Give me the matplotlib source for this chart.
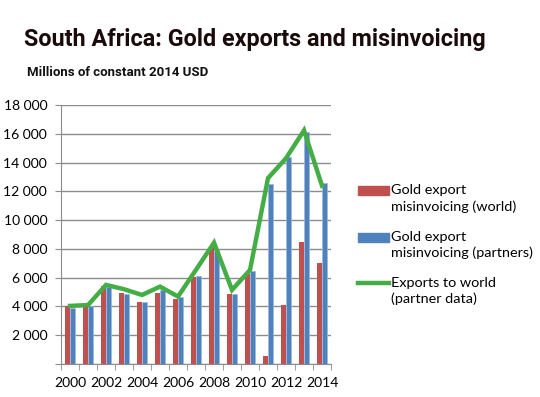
import matplotlib
matplotlib.use("Agg")
import matplotlib.pyplot as plt
from matplotlib.ticker import FuncFormatter
from matplotlib.lines import Line2D
from matplotlib.patches import Rectangle
import numpy as np

years = list(range(2000, 2015))
misinv_world = [4000, 4000, 5430, 4920, 4340, 4970, 4550, 6080, 8150, 4870, 6260, 560, 4100, 8510, 7030]
misinv_partners = [3870, 4040, 5380, 4870, 4290, 5150, 4640, 6150, 7950, 4870, 6470, 12500, 14360, 16120, 12570]
exports_world = [4040, 4100, 5500, 5200, 4800, 5380, 4690, 6550, 8430, 5150, 6540, 12920, 14300, 16240, 12390]

red = "#C0504D"
blue = "#4F81BD"
green = "#45AD45"
grid_col = "#8C8C8C"

fig = plt.figure(figsize=(5.4, 3.97), dpi=100)
ax = fig.add_axes([0.113, 0.083, 0.5, 0.6525])

x = np.arange(len(years))
w = 0.3
ax.bar(x - w / 2, misinv_world, width=w, color=red, zorder=2)
ax.bar(x + w / 2, misinv_partners, width=w, color=blue, edgecolor="#9DB9DD", linewidth=0.5, zorder=2)
ax.plot(x, exports_world, color=green, linewidth=3.2, zorder=3, solid_joinstyle="miter")

ax.set_xlim(-0.5, len(years) - 0.5)
ax.set_ylim(0, 18000)
ax.set_yticks(range(0, 18001, 2000))
ax.yaxis.set_major_formatter(FuncFormatter(lambda v, p: "" if v == 0 else f"{int(v):,}".replace(",", " ")))
ax.grid(axis="y", color=grid_col, linewidth=1, zorder=0)
ax.set_axisbelow(True)

ax.set_xticks(x[::2])
ax.set_xticklabels([str(y) for y in years[::2]])
ax.set_xticks(np.arange(-0.5, len(years)), minor=True)
ax.tick_params(axis="x", which="major", length=0, pad=9)
ax.tick_params(axis="x", which="minor", length=4, color=grid_col, direction="out")
ax.tick_params(axis="y", length=4, color=grid_col, pad=6)
for lab in ax.get_xticklabels() + ax.get_yticklabels():
    lab.set_fontfamily("Lato")
    lab.set_fontsize(10)

for s in ["top", "right"]:
    ax.spines[s].set_visible(False)
for s in ["left", "bottom"]:
    ax.spines[s].set_color(grid_col)

fig.text(0.044, 0.9, "South Africa: Gold exports and misinvoicing", fontsize=16.8,
         fontweight="bold", family="Roboto", color="#1a0a0a", va="center")
fig.text(0.05, 0.818, "Millions of constant 2014 USD", fontsize=9.5,
         fontweight="bold", family="Roboto", color="#111111", va="center")

# legend, handle lined up with first text line as in the original
labels = ["Gold export\nmisinvoicing (world)", "Gold export\nmisinvoicing (partners)",
          "Exports to world\n(partner data)"]
W, H = 540, 397
leg_y = [190.5, 237, 283]
for i, (lab, yy) in enumerate(zip(labels, leg_y)):
    yf = 1 - yy / H
    if i < 2:
        fig.patches.append(Rectangle((358 / W, yf - 4.5 / H), 31 / W, 9 / H,
                                     color=[red, blue][i], transform=fig.transFigure))
    else:
        fig.add_artist(Line2D([358 / W, 389 / W], [yf, yf], color=green, linewidth=3.2,
                              transform=fig.transFigure))
    fig.text(391 / W, yf + 6 / H, lab, fontsize=10.4, family="Lato", va="top",
             linespacing=1.35)

fig.savefig("out.png", dpi=100)
